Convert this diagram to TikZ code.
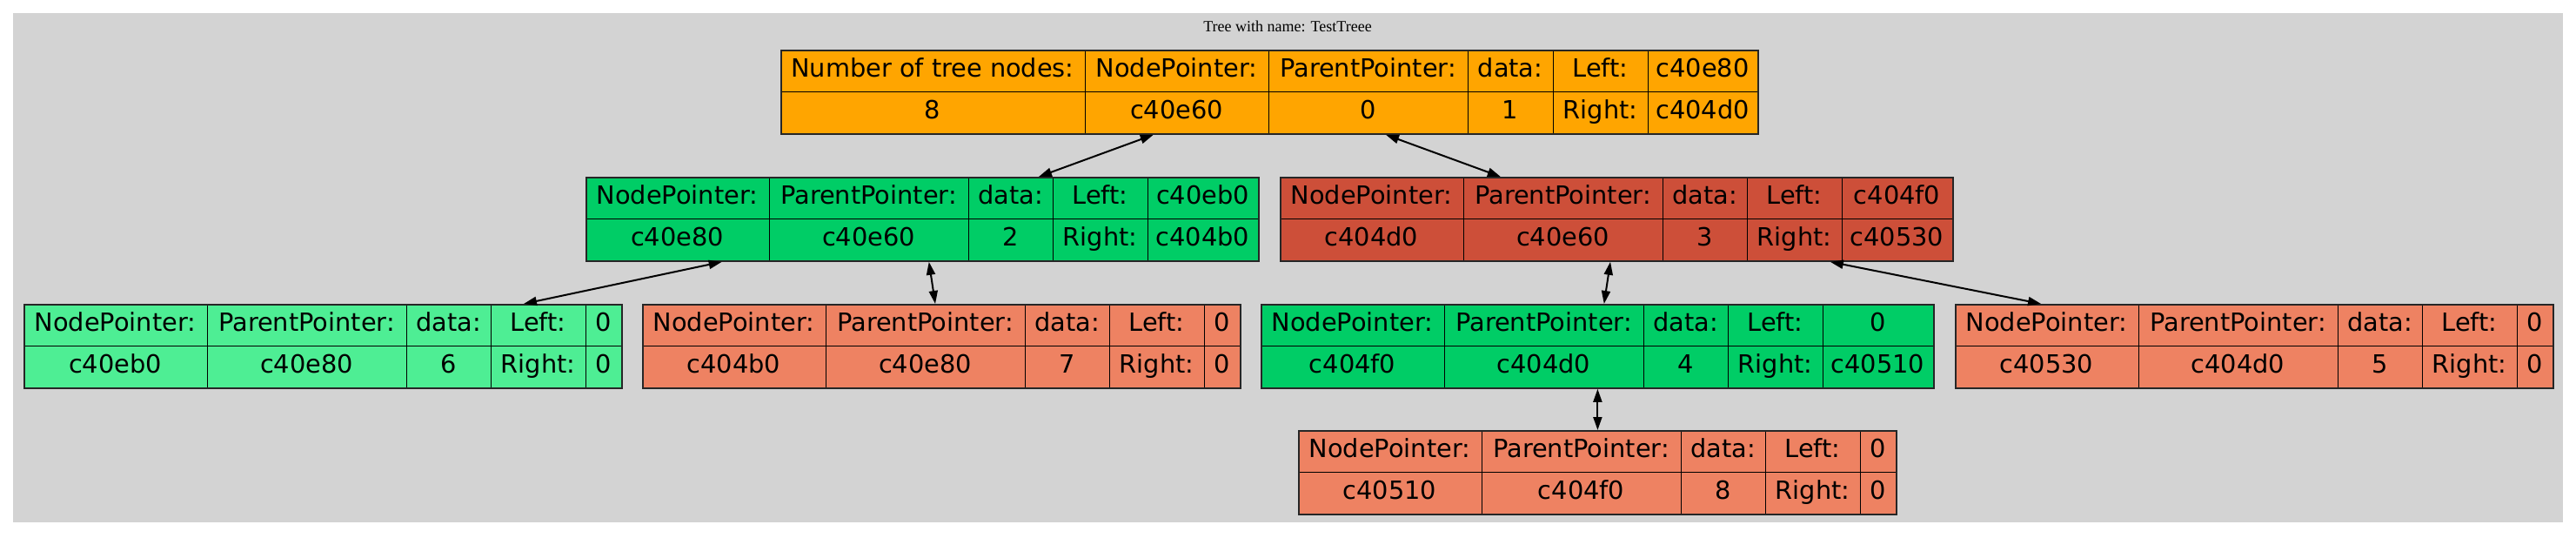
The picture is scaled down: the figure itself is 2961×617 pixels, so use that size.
\documentclass[tikz,border=0pt]{standalone}
\usepackage{fontspec}
\usepackage{tikz}
\usetikzlibrary{arrows.meta}

\newfontfamily\cellfont{DejaVu Sans}
\newfontfamily\titlefont{Liberation Serif}

\definecolor{lightgrey}{HTML}{D3D3D3}
\definecolor{treeorange}{HTML}{FFA500}
\definecolor{springgreen3}{HTML}{00CD66}
\definecolor{seagreen2}{HTML}{4EEE94}
\definecolor{tomato3}{HTML}{CD4F39}
\definecolor{salmon2}{HTML}{EE8262}

\tikzset{
	cell/.style={font=\cellfont\fontsize{14.4}{17}\selectfont, inner sep=0pt, text height=10.5pt, text depth=3pt},
	cellline/.style={line width=0.5pt},
	tbl/.style={draw=black!85, line width=0.9pt, inner sep=0pt, anchor=north west},
	link/.style={<->, line width=1pt},
}

% one tree node: name, top left corner, colour, width of last column, pointer, parent, data, left, right
\newcommand{\treetable}[9]{
	\begin{scope}[shift={(#2)}]
		\fill[#3] (0,0) rectangle (646+#4,96);
		\draw[cellline] (0,48) -- (646+#4,48);
		\foreach \cx in {211,440,537,646}
			\draw[cellline] (\cx,0) -- (\cx,96);
		\node[cell] at (105.5,24) {NodePointer:};
		\node[cell] at (325.5,24) {ParentPointer:};
		\node[cell] at (488.5,24) {data:};
		\node[cell] at (591.5,24) {Left:};
		\node[cell] at (646+#4/2,24) {#8};
		\node[cell] at (105.5,72) {#5};
		\node[cell] at (325.5,72) {#6};
		\node[cell] at (488.5,72) {#7};
		\node[cell] at (591.5,72) {Right:};
		\node[cell] at (646+#4/2,72) {#9};
		\node[tbl, minimum width={(646+#4)*0.5pt}, minimum height=48pt] (#1) at (0,0) {};
	\end{scope}
}

\begin{document}
\begin{tikzpicture}[x=0.5pt, y=-0.5pt, >={Triangle[length=7.5pt,width=5pt]}]
	\fill[white] (0,0) rectangle (2961,617);
	\useasboundingbox (0,0) rectangle (2961,617);
	\fill[lightgrey] (15,15) rectangle (2946,600);

	\node[font=\titlefont\fontsize{9}{11}\selectfont] (title) at (1480,30) {Tree with name: TestTreee};

	% root with the node count
	\begin{scope}[shift={(897,57)}]
		\fill[treeorange] (0,0) rectangle (1123,96);
		\draw[cellline] (0,48) -- (1123,48);
		\foreach \cx in {350,561,790,888,997}
			\draw[cellline] (\cx,0) -- (\cx,96);
		\foreach \cx/\hd/\vl in {175/Number of tree nodes:/8, 455.5/NodePointer:/c40e60, 675.5/ParentPointer:/0, 839/data:/1, 942.5/Left:/Right:, 1060/c40e80/c404d0} {
			\node[cell] at (\cx,24) {\hd};
			\node[cell] at (\cx,72) {\vl};
		}
		\node[tbl, minimum width=561.5pt, minimum height=48pt] (root) at (0,0) {};
	\end{scope}

	\treetable{c40e80}{673,203}{springgreen3}{127}{c40e80}{c40e60}{2}{c40eb0}{c404b0}
	\treetable{c404d0}{1471,203}{tomato3}{127}{c404d0}{c40e60}{3}{c404f0}{c40530}
	\treetable{c40eb0}{27,349}{seagreen2}{41}{c40eb0}{c40e80}{6}{0}{0}
	\treetable{c404b0}{738,349}{salmon2}{41}{c404b0}{c40e80}{7}{0}{0}
	\treetable{c404f0}{1449,349}{springgreen3}{127}{c404f0}{c404d0}{4}{0}{c40510}
	\treetable{c40530}{2247,349}{salmon2}{41}{c40530}{c404d0}{5}{0}{0}
	\treetable{c40510}{1492,494}{salmon2}{41}{c40510}{c404f0}{8}{0}{0}

	\draw[link] (root) -- (c40e80);
	\draw[link] (root) -- (c404d0);
	\draw[link] (c40e80) -- (c40eb0);
	\draw[link] (c40e80) -- (c404b0);
	\draw[link] (c404d0) -- (c404f0);
	\draw[link] (c404d0) -- (c40530);
	\draw[link] (c404f0) -- (c40510);
\end{tikzpicture}
\end{document}
